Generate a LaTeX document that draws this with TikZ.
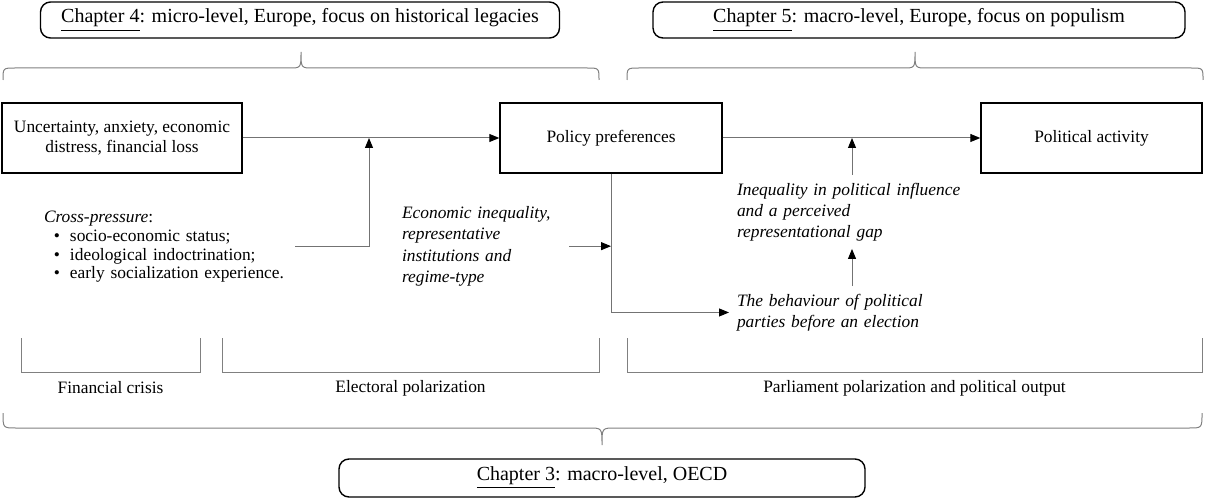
\documentclass[tikz,border=0pt]{standalone}
\usepackage{fontspec}
\setmainfont{Liberation Serif}
\usetikzlibrary{positioning, arrows.meta}

\begin{document}
\begin{tikzpicture}[x=0.5pt, y=-0.5pt,
    box/.style={draw, line width=0.7pt, minimum height=35pt, align=center, inner sep=2pt, font=\fontsize{8.7}{10.2}\selectfont},
    chapbox/.style={draw, line width=0.7pt, rounded corners=5pt, minimum height=18pt, font=\fontsize{10}{12}\selectfont},
    note/.style={align=left, inner sep=0pt, outer sep=4pt, anchor=north west, font=\fontsize{8.7}{10.5}\selectfont\itshape},
    conn/.style={draw=black!55, line width=0.5pt},
    arr/.style={conn, -{Triangle[length=5pt, width=4pt, color=black]}},
    curly/.style={draw=black!50, line width=0.5pt},
    bracket/.style={draw=black!50, line width=0.5pt},
    lbl/.style={font=\fontsize{8.7}{10}\selectfont}
  ]
  \useasboundingbox (0,0) rectangle (1208,502);

  % chapters
  \node[chapbox, minimum width=259.5pt] (ch4) at (300,20) {\underline{Chapter 4}: micro-level, Europe, focus on historical legacies};
  \node[chapbox, minimum width=266pt] (ch5) at (919,20) {\underline{Chapter 5}: macro-level, Europe, focus on populism};
  \node[chapbox, minimum width=263pt, minimum height=19pt] (ch3) at (602,478) {\underline{Chapter 3}: macro-level, OECD};
  \draw[curly] (3,80) .. controls (3,68) .. (15,68) -- (289,68) .. controls (301,68) .. (301,52)
    .. controls (301,68) .. (313,68) -- (587,68) .. controls (599,68) .. (599,80);
  \draw[curly] (627,80) .. controls (627,68) .. (639,68) -- (903,68) .. controls (915,68) .. (915,52)
    .. controls (915,68) .. (927,68) -- (1191,68) .. controls (1203,68) .. (1203,80);
  \draw[curly] (3,413) .. controls (3,428) .. (16,428) -- (589,428) .. controls (602,428) .. (602,445)
    .. controls (602,428) .. (615,428) -- (1189,428) .. controls (1202,428) .. (1202,413);

  % main chain
  \node[box, minimum width=120pt] (unc) at (122,138) {Uncertainty, anxiety, economic\\distress, financial loss};
  \node[box, minimum width=111pt] (pol) at (611,138) {Policy preferences};
  \node[box, minimum width=110.5pt] (act) at (1091.5,138) {Political activity};

  \node[note, text width=121.5pt, font=\fontsize{8.7}{9.4}\selectfont] (cross) at (36,203)
    {\textit{Cross-pressure}:\\
     \makebox[13pt]{\textbullet}socio-economic status;\\
     \makebox[13pt]{\textbullet}ideological indoctrination;\\
     \makebox[13pt]{\textbullet}early socialization experience.};
  \node[note, text width=79.5pt, font=\fontsize{8.7}{10.75}\selectfont\itshape] (econ) at (394,198)
    {Economic inequality,\\representative\\institutions and\\regime-type};
  \node[note, text width=115pt] (ineq) at (729,175)
    {Inequality in political influence\\and a perceived\\representational gap};
  \node[note, text width=115pt] (beh) at (729,286)
    {The behaviour of political\\parties before an election};

  \coordinate (hk) at (369,0 |- unc.east);
  \draw[arr] (unc.east) -- (pol.west);
  \draw[arr] (pol.east) -- (act.west);
  \draw[arr] (cross.east) -| (hk);
  \draw[arr] (econ.east) -- (econ.east -| pol.south);
  \draw[arr] (pol.south) |- (beh.west);
  \draw[arr] (ineq.north) -- (ineq.north |- act.west);
  \draw[arr] (beh.north) -- (ineq.south);

  % stages
  \foreach \a/\b/\txt/\nm in {21/200/Financial crisis/fin, 222/599/Electoral polarization/ele, 627/1202/Parliament polarization and political output/parl}{
    \draw[bracket] (\a,338) |- (\b,372) -- (\b,338);
    \node[lbl] (\nm) at ({(\a+\b)/2},388) {\txt};
  }
\end{tikzpicture}
\end{document}
